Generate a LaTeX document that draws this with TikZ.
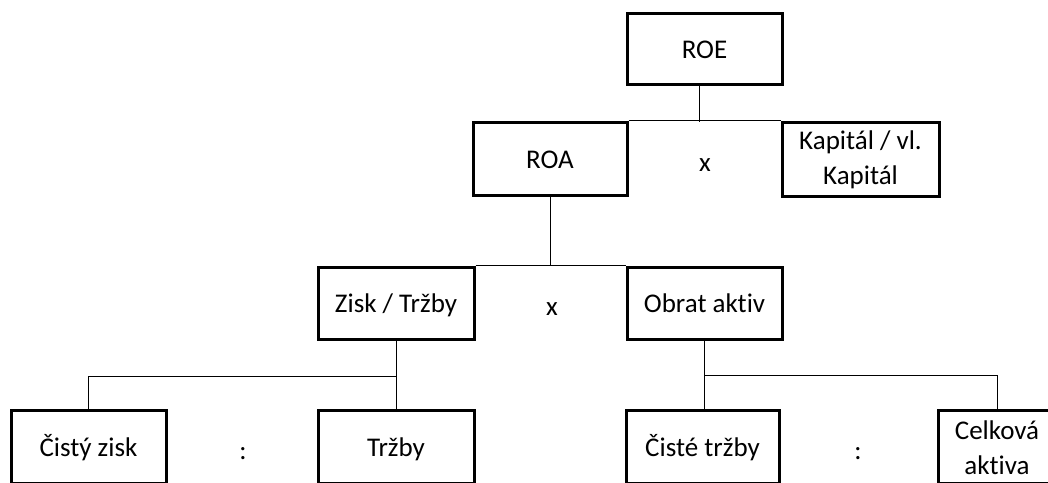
\documentclass[tikz,border=0pt]{standalone}
\usepackage{fontspec}
\setmainfont[Ligatures=NoCommon]{Carlito}
\usetikzlibrary{calc}
\begin{document}
\begin{tikzpicture}[x=1pt,y=-1pt,
  box/.style={draw=black, line width=3pt, inner sep=0pt, align=center,
    font=\fontsize{27}{35}\selectfont},
  one/.style={text height=24pt, text depth=5pt},
  lab/.style={inner sep=0pt, font=\fontsize{27}{35}\selectfont},
  conn/.style={draw=black, line width=1pt}]
\useasboundingbox (0,0) rectangle (1048,482);
\clip (0,0) rectangle (1048,482);
\fill[white] (0,0) rectangle (1048,482);
% boxes
\node[box, one, minimum width=155, minimum height=71] (roe) at (704.5,48.5) {ROE};
\node[box, one, minimum width=154, minimum height=73] (roa) at (550,158.5) {ROA};
\node[box, text height=55pt, text depth=5pt, minimum width=157, minimum height=74] (kap) at (860.5,159) {Kapitál / vl.\\Kapitál};
\node[box, one, minimum width=156, minimum height=72] (zisk) at (396,303) {Zisk / Tržby};
\node[box, one, minimum width=155, minimum height=72] (obrat) at (704.5,303) {Obrat aktiv};
\node[box, one, minimum width=155, minimum height=73] (cz) at (88.5,446.5) {Čistý zisk};
\node[box, one, minimum width=156, minimum height=73] (trz) at (396,446.5) {Tržby};
\node[box, one, minimum width=153, minimum height=73] (ct) at (702.5,446.5) {Čisté tržby};
\node[box, text height=60pt, text depth=5pt, minimum width=118, minimum height=73] (ca) at (997,446.5) {Celková\\aktiva};
% operators
\node[lab, one] (op1) at (705,162) {x};
\node[lab, one] (op2) at (552,306) {x};
\node[lab, one] (op3) at (243,450) {:};
\node[lab, one] (op4) at (858,450) {:};
% connectors
\coordinate (j1) at (699,122);
\draw[conn] (roe.south -| j1) -- (j1);
\draw[conn] (roa.north east) -- (kap.north west);
\draw[conn] (roa.south) -- (roa.south |- zisk.north);
\draw[conn] (zisk.north east) -- (obrat.north west);
\coordinate (h1) at (396,376);
\draw[conn] (zisk.south) -- (trz.north);
\draw[conn] (cz.north) -- (cz.north |- h1) -- (h1);
\coordinate (h2) at (704,375);
\draw[conn] (obrat.south) -- (obrat.south |- ct.north);
\draw[conn] (h2) -- (h2 -| ca.north) -- (ca.north);
\end{tikzpicture}
\end{document}
